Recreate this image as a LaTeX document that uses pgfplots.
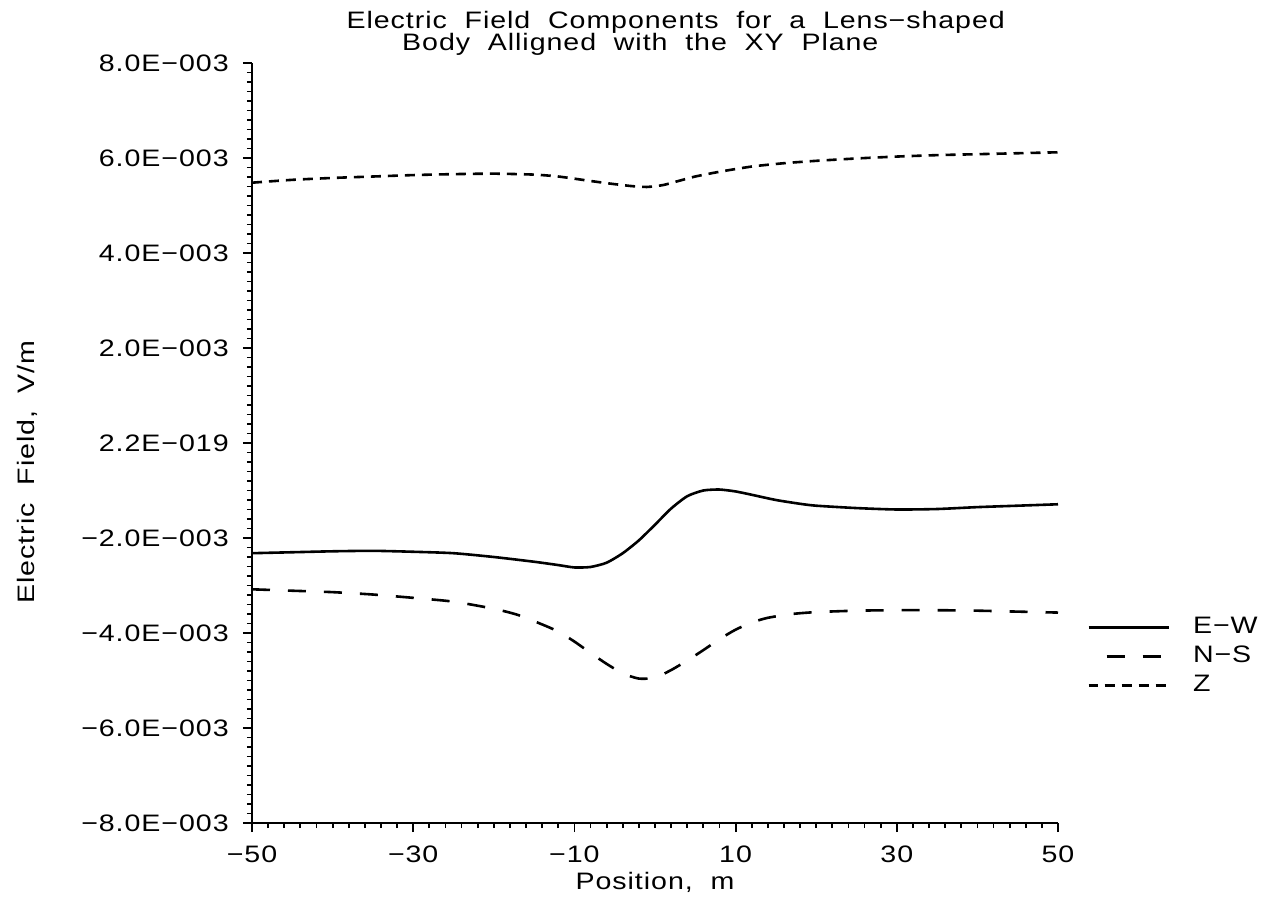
\documentclass[border=0pt]{standalone}
\usepackage{fontspec}
\setmainfont{Liberation Sans}[FakeStretch=1.2, WordSpace=2, LetterSpace=4]
\usepackage{pgfplots}
\pgfplotsset{compat=1.18}

% Field components along the profile (position in m, field in V/m)
\pgfplotstableread{
x     ew
-50  -2.32e-3
-45  -2.30e-3
-40  -2.28e-3
-35  -2.27e-3
-30  -2.29e-3
-25  -2.32e-3
-20  -2.40e-3
-15  -2.50e-3
-12  -2.57e-3
-10  -2.62e-3
-8   -2.61e-3
-6   -2.52e-3
-4   -2.32e-3
-2   -2.05e-3
0    -1.72e-3
2    -1.38e-3
4    -1.12e-3
6    -1.00e-3
8    -0.98e-3
10   -1.02e-3
12   -1.09e-3
15   -1.20e-3
18   -1.28e-3
20   -1.32e-3
25   -1.37e-3
30   -1.40e-3
35   -1.39e-3
40   -1.35e-3
45   -1.32e-3
50   -1.29e-3
}\ewdata

\pgfplotstableread{
x     ns
-50  -3.08e-3
-45  -3.11e-3
-40  -3.14e-3
-35  -3.19e-3
-30  -3.26e-3
-25  -3.34e-3
-20  -3.49e-3
-17  -3.62e-3
-14  -3.82e-3
-12  -3.97e-3
-10  -4.18e-3
-8   -4.42e-3
-6   -4.65e-3
-4   -4.85e-3
-2   -4.96e-3
0    -4.94e-3
2    -4.78e-3
4    -4.58e-3
6    -4.36e-3
8    -4.13e-3
10   -3.93e-3
12   -3.78e-3
14   -3.68e-3
17   -3.60e-3
20   -3.56e-3
25   -3.53e-3
30   -3.52e-3
35   -3.52e-3
40   -3.53e-3
45   -3.55e-3
50   -3.57e-3
}\nsdata

\pgfplotstableread{
x     z
-50  5.48e-3
-45  5.54e-3
-40  5.58e-3
-35  5.61e-3
-30  5.64e-3
-25  5.66e-3
-20  5.67e-3
-15  5.65e-3
-12  5.61e-3
-9   5.54e-3
-6   5.47e-3
-3   5.41e-3
-1   5.39e-3
1    5.43e-3
3    5.52e-3
5    5.61e-3
8    5.71e-3
12   5.82e-3
16   5.89e-3
20   5.94e-3
25   5.99e-3
30   6.03e-3
35   6.06e-3
40   6.08e-3
45   6.10e-3
50   6.12e-3
}\zdata

\begin{document}
\fontsize{11.9pt}{14pt}\selectfont
\begin{tikzpicture}
\begin{axis}[
  name=ax,
  scale only axis,
  width=403pt, height=380pt,
  xmin=-50, xmax=50,
  ymin=-0.008, ymax=0.008,
  axis lines=left,
  axis line style={-, line width=1pt},
  tick align=outside,
  major tick length=4.5pt,
  minor tick length=2.5pt,
  every tick/.style={black, line width=0.9pt},
  xtick={-50,-30,-10,10,30,50},
  xticklabels={−50,−30,−10,10,30,50},
  minor x tick num=9,
  ytick={-0.008,-0.006,-0.004,-0.002,0,0.002,0.004,0.006,0.008},
  yticklabels={−8.0E−003,−6.0E−003,−4.0E−003,−2.0E−003,2.2E−019,2.0E−003,4.0E−003,6.0E−003,8.0E−003},
  minor y tick num=9,
  scaled y ticks=false,
  yticklabel style={xshift=-3pt},
  xticklabel style={yshift=-3pt},
  clip=false,
  legend cell align=left,
  legend style={draw=none, fill=none, at={(rel axis cs:1.036,0.275)}, anchor=north west,
    inner sep=0pt, row sep=1.5pt, nodes={inner sep=1.5pt},
    /tikz/every odd column/.append style={column sep=10pt}},
  legend image code/.code={\draw[#1, dash phase=9pt] (0pt,0pt) -- (40pt,0pt);},
]
\addplot[black, line width=1.3pt, smooth, tension=0.4] table[x=x, y=ew] {\ewdata};
\addlegendentry{E−W}
\addplot[black, line width=1.3pt, smooth, tension=0.4, dash pattern=on 9pt off 9pt] table[x=x, y=ns] {\nsdata};
\addlegendentry{N−S}
\addplot[black, line width=1.3pt, smooth, tension=0.4, dash pattern=on 5pt off 3.5pt] table[x=x, y=z] {\zdata};
\addlegendentry{Z}

\node[anchor=west] at (rel axis cs:0.107,1.054) {Electric Field Components for a Lens−shaped};
\node[anchor=west] at (rel axis cs:0.176,1.024) {Body Alligned with the XY Plane};
\node[rotate=90] at (rel axis cs:-0.279,0.462) {Electric Field, V/m};
\node at (rel axis cs:0.5,-0.078) {Position, m};
\end{axis}
\pgfresetboundingbox
\path[use as bounding box] (ax.south west) ++(-126pt,-38.5pt) rectangle ++(636pt,450pt);
\end{tikzpicture}
\end{document}
